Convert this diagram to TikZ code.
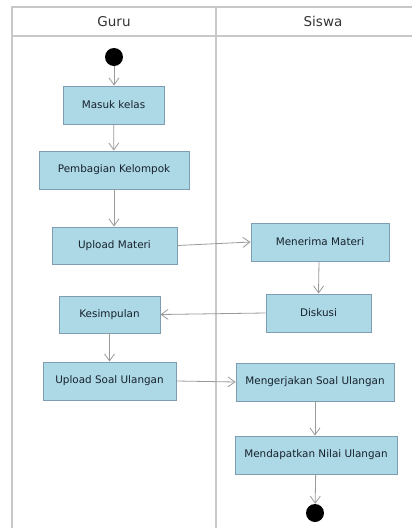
\documentclass[tikz,border=0pt]{standalone}
\usepackage{fontspec}
\setmainfont{DejaVu Sans}
\usetikzlibrary{arrows.meta}
\definecolor{boxfill}{HTML}{ADD8E6}
\definecolor{boxline}{HTML}{7F9DB0}
\definecolor{laneline}{HTML}{C8C8C8}
\definecolor{conn}{HTML}{9A9A9A}
\definecolor{txt}{HTML}{16222C}
\begin{document}
\begin{tikzpicture}[x=1pt,y=-1pt,
  act/.style={draw=boxline,line width=0.9pt,fill=boxfill,inner sep=0pt,
    font=\fontsize{10.4}{12}\selectfont,text=txt},
  dot/.style={circle,fill=black,inner sep=0pt,minimum size=18pt},
  flow/.style={draw=conn,line width=0.8pt,-{Straight Barb[length=7pt,width=10pt]}},
  lane/.style={draw=laneline,line width=1.4pt},
  hdr/.style={font=\fontsize{13.5}{15}\selectfont,text=black!80}]
\useasboundingbox (0,0) rectangle (412,528);
% swimlanes
\draw[lane] (12,528) -- (12,7) -- (412,7);
\draw[lane] (12,36) -- (412,36);
\draw[lane] (216,7) -- (216,528);
\node[hdr] (guru) at (114,21.5) {Guru};
\node[hdr] (siswa) at (323,21.5) {Siswa};
% nodes
\node[dot] (start) at (114,57) {};
\node[act,minimum width=101pt,minimum height=38pt] (masuk) at (113.5,105) {Masuk kelas};
\node[act,minimum width=150pt,minimum height=38pt] (bagi) at (114,170) {Pembagian Kelompok};
\node[act,minimum width=125pt,minimum height=37pt] (upmat) at (114.5,245.5) {Upload Materi};
\node[act,minimum width=138pt,minimum height=38pt] (terima) at (320,242) {Menerima Materi};
\node[act,minimum width=101pt,minimum height=37pt] (simpul) at (109.5,314.5) {Kesimpulan};
\node[act,minimum width=105pt,minimum height=38pt] (diskusi) at (318.5,313) {Diskusi};
\node[act,minimum width=133pt,minimum height=38pt] (upsoal) at (109.5,381) {Upload Soal Ulangan};
\node[act,minimum width=158pt,minimum height=38pt] (kerja) at (315,382) {Mengerjakan Soal Ulangan};
\node[act,minimum width=162pt,minimum height=38pt] (nilai) at (316,455) {Mendapatkan Nilai Ulangan};
\node[dot] (end) at (315,513) {};
% flows
\draw[flow] (start) -- (start |- masuk.north);
\draw[flow] (masuk) -- (bagi);
\draw[flow] (bagi) -- (bagi |- upmat.north);
\draw[flow] (upmat.east) -- (terima.west);
\draw[flow] (terima.south -| diskusi.north) ++(0.5,0) -- (diskusi.north);
\draw[flow] (diskusi.west) -- (simpul.east);
\draw[flow] (simpul) -- (upsoal);
\draw[flow] (upsoal.east) -- (kerja.west);
\draw[flow] (kerja) -- (kerja |- nilai.north);
\draw[flow] (nilai) -- (end);
\end{tikzpicture}
\end{document}
